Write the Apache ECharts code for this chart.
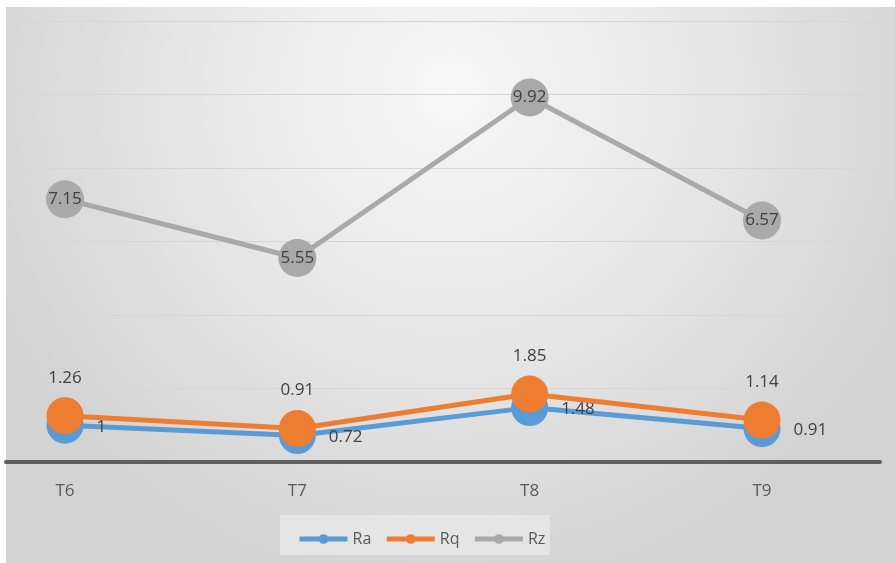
<!DOCTYPE html>
<html><head><meta charset="utf-8">
<script src="https://cdn.jsdelivr.net/npm/echarts@6/dist/echarts.min.js"></script>
<style>html,body{margin:0;padding:0;background:#fff}#c{width:895px;height:563px}</style>
</head><body><div id="c"></div>
<script>
const categories = ['T6', 'T7', 'T8', 'T9'];
const ra = [1, 0.72, 1.48, 0.91];
const rq = [1.26, 0.91, 1.85, 1.14];
const rz = [7.15, 5.55, 9.92, 6.57];
const yMin = 0, yMax = 12, yStep = 2;

const chart = echarts.init(document.getElementById('c'));
const font = '"Open Sans", "Liberation Sans", sans-serif';
const lbl = {fontFamily: font, fontSize: 17, color: '#404040'};
chart.setOption({
  animation: false,
  graphic: [{
    type: 'rect', z: -10, silent: true,
    shape: {x: 6, y: 7, width: 889, height: 556},
    style: {fill: new echarts.graphic.RadialGradient(0.5, 0.15, 0.9, [
      {offset: 0, color: '#f7f7f7'}, {offset: 0.45, color: '#e9e9e9'}, {offset: 1, color: '#d3d3d3'}])}
  }, {
    type: 'rect', z: -5, silent: true,
    shape: {x: 280, y: 515, width: 270, height: 40},
    style: {fill: 'rgba(240,240,240,0.55)'}
  }],
  legend: {
    data: ['Ra', 'Rq', 'Rz'], left: 292, top: 526, itemWidth: 48, itemHeight: 12, itemGap: 13,
    lineStyle: {width: 5},
    textStyle: {fontFamily: font, fontSize: 16, color: '#595959'}
  },
  grid: [
    {left: 65, right: 133, top: 21, bottom: 101},
    {left: 6, right: 15, top: 21, bottom: 101}
  ],
  xAxis: [
    {type: 'category', data: categories, boundaryGap: false, gridIndex: 0,
     axisLine: {show: false}, axisTick: {show: false},
     axisLabel: {fontFamily: font, fontSize: 17, color: '#595959', margin: 21}},
    {type: 'category', data: categories, gridIndex: 1,
     axisLine: {show: true, lineStyle: {color: '#5f5f5f', width: 4}}, axisTick: {show: false}, axisLabel: {show: false}}
  ],
  yAxis: [
    {type: 'value', min: yMin, max: yMax, interval: yStep, gridIndex: 0, show: false, splitLine: {show: false}},
    {type: 'value', min: yMin, max: yMax, interval: yStep, gridIndex: 1,
     axisLine: {show: false}, axisTick: {show: false}, axisLabel: {show: false},
     splitLine: {lineStyle: {color: '#d6d6d6', width: 1}}}
  ],
  series: [
    {name: 'Ra', type: 'line', data: ra, color: '#5b9bd5', symbol: 'circle', symbolSize: 37,
     lineStyle: {width: 5}, z: 3,
     label: {show: true, position: 'right', distance: 13, offset: [0, 2], ...lbl}},
    {name: 'Rq', type: 'line', data: rq, color: '#ed7d31', symbol: 'circle', symbolSize: 37,
     lineStyle: {width: 5}, z: 4,
     label: {show: true, position: 'top', distance: 11, ...lbl}},
    {name: 'Rz', type: 'line', data: rz, color: '#a9a9a9', symbol: 'circle', symbolSize: 38,
     lineStyle: {width: 5}, z: 2,
     label: {show: true, position: 'inside', ...lbl}}
  ]
});
</script></body></html>
